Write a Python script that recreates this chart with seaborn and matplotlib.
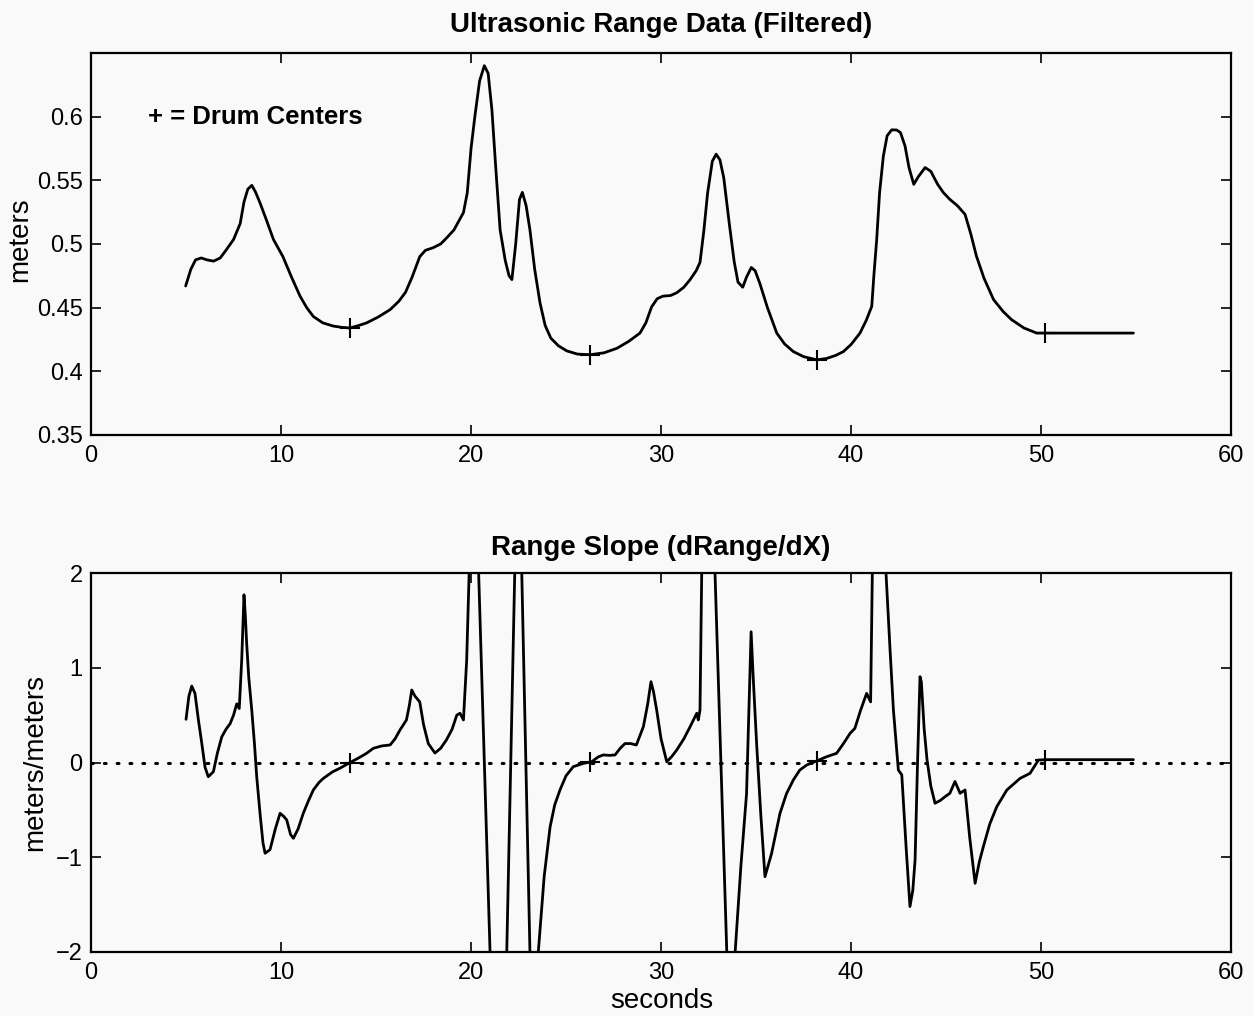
import numpy as np
import pandas as pd
import matplotlib
matplotlib.use("Agg")
import matplotlib.pyplot as plt
import seaborn as sns

# ---------------- data ----------------
range_x = [4.98, 5.25, 5.5, 5.8, 6.1, 6.45, 6.8, 7.1, 7.5, 7.85, 8.05, 8.25, 8.46, 8.65, 8.9,
           9.25, 9.6, 10.1, 10.55, 11.0, 11.35, 11.7, 12.2, 12.75, 13.2, 13.63, 14.1, 14.5, 15.1,
           15.74, 16.2, 16.55, 16.9, 17.3, 17.6, 18.0, 18.4, 18.7, 19.1, 19.6, 19.8, 20.0, 20.2,
           20.45, 20.7, 20.9, 21.1, 21.3, 21.53, 21.8, 22.0, 22.15, 22.35, 22.55, 22.7, 22.9, 23.1,
           23.35, 23.63, 23.9, 24.2, 24.6, 25.04, 25.6, 26.26, 27.0, 27.67, 28.3, 28.89, 29.2, 29.5,
           29.8, 30.1, 30.5, 30.82, 31.2, 31.53, 31.85, 32.05, 32.25, 32.45, 32.7, 32.9, 33.1, 33.3,
           33.6, 33.85, 34.05, 34.3, 34.5, 34.75, 34.95, 35.2, 35.6, 36.09, 36.5, 36.96, 37.5, 38.19,
           38.7, 39.2, 39.6, 40.0, 40.47, 40.8, 41.09, 41.2, 41.35, 41.5, 41.7, 41.9, 42.14, 42.4,
           42.6, 42.84, 43.05, 43.3, 43.55, 43.9, 44.2, 44.55, 44.86, 45.2, 45.6, 46.0, 46.3, 46.6,
           47.0, 47.5, 48.0, 48.45, 49.1, 49.77, 50.2, 52.0, 54.86]
range_m = [0.467, 0.480, 0.4875, 0.489, 0.4875, 0.4865, 0.489, 0.495, 0.5035, 0.516, 0.533, 0.543,
           0.546, 0.541, 0.532, 0.518, 0.5035, 0.490, 0.474, 0.459, 0.450, 0.443, 0.438, 0.4355,
           0.4345, 0.434, 0.436, 0.438, 0.4425, 0.4484, 0.455, 0.462, 0.474, 0.490, 0.495, 0.497,
           0.500, 0.5045, 0.511, 0.5246, 0.540, 0.575, 0.600, 0.628, 0.640, 0.634, 0.605, 0.560,
           0.511, 0.487, 0.475, 0.472, 0.500, 0.535, 0.5405, 0.530, 0.511, 0.480, 0.4537, 0.436,
           0.426, 0.420, 0.416, 0.4135, 0.413, 0.4145, 0.418, 0.4235, 0.430, 0.438, 0.4505, 0.457,
           0.459, 0.4595, 0.4616, 0.466, 0.472, 0.479, 0.4855, 0.510, 0.540, 0.565, 0.5705, 0.566,
           0.552, 0.515, 0.486, 0.470, 0.466, 0.474, 0.4815, 0.479, 0.469, 0.450, 0.430, 0.4215,
           0.4155, 0.4115, 0.409, 0.410, 0.4125, 0.4155, 0.421, 0.430, 0.440, 0.451, 0.475, 0.5035,
           0.540, 0.569, 0.585, 0.5896, 0.5895, 0.5875, 0.577, 0.560, 0.5468, 0.553, 0.560, 0.557,
           0.547, 0.5403, 0.535, 0.530, 0.5232, 0.508, 0.4904, 0.473, 0.4563, 0.447, 0.4405, 0.434,
           0.430, 0.430, 0.430, 0.430]

slope_x = [5.0, 5.15, 5.3, 5.47, 5.65, 5.83, 6.0, 6.17, 6.44, 6.65, 6.88, 7.1, 7.32, 7.5, 7.67,
           7.8, 7.93, 8.05, 8.12, 8.19, 8.3, 8.46, 8.6, 8.72, 8.9, 9.05, 9.16, 9.42, 9.7, 9.95,
           10.15, 10.3, 10.5, 10.65, 10.9, 11.17, 11.45, 11.7, 12.0, 12.23, 12.7, 13.1, 13.63, 14.1,
           14.5, 14.86, 15.3, 15.74, 16.0, 16.26, 16.6, 16.75, 16.88, 17.05, 17.3, 17.5, 17.75,
           18.1, 18.4, 18.7, 19.0, 19.25, 19.42, 19.6, 19.77, 19.9, 20.1, 20.4, 21.0, 21.4, 21.88,
           22.3, 22.5, 22.67, 23.1, 23.3, 23.54, 23.85, 24.16, 24.4, 24.68, 25.0, 25.38, 25.9,
           26.35, 26.7, 26.96, 27.3, 27.58, 27.85, 28.1, 28.4, 28.7, 29.07, 29.3, 29.47, 29.6,
           29.77, 30.0, 30.3, 30.55, 30.82, 31.2, 31.53, 31.88, 31.96, 32.05, 32.14, 32.5, 32.84,
           33.46, 33.7, 33.9, 34.2, 34.5, 34.74, 34.85, 35.03, 35.25, 35.47, 35.82, 36.26, 36.6,
           36.96, 37.3, 37.67, 38.19, 38.7, 39.24, 39.6, 39.95, 40.2, 40.5, 40.82, 41.03, 41.12,
           41.45, 41.84, 42.05, 42.23, 42.49, 42.67, 42.9, 43.1, 43.25, 43.37, 43.5, 43.63, 43.7,
           43.85, 44.0, 44.2, 44.42, 44.7, 44.95, 45.2, 45.47, 45.74, 46.0, 46.25, 46.53, 46.75,
           46.96, 47.3, 47.67, 48.2, 48.9, 49.42, 49.86, 50.3, 52.0, 54.86]
slope_v = [0.456, 0.70, 0.807, 0.73, 0.45, 0.20, -0.05, -0.15, -0.097, 0.10, 0.27, 0.35, 0.41,
           0.50, 0.62, 0.57, 1.08, 1.77, 1.55, 1.26, 0.90, 0.55, 0.20, -0.15, -0.55, -0.85, -0.958,
           -0.92, -0.70, -0.536, -0.57, -0.607, -0.76, -0.80, -0.70, -0.536, -0.40, -0.29, -0.21,
           -0.167, -0.10, -0.06, 0.0, 0.05, 0.097, 0.15, 0.175, 0.185, 0.25, 0.343, 0.449, 0.60,
           0.765, 0.70, 0.64, 0.40, 0.20, 0.10, 0.15, 0.237, 0.35, 0.50, 0.52, 0.449, 1.08, 2.0,
           4.5, 2.0, -2.0, -4.0, -2.0, 2.0, 4.0, 2.0, -2.0, -3.5, -2.0, -1.2, -0.68, -0.45, -0.29,
           -0.14, -0.044, -0.01, 0.008, 0.06, 0.08, 0.075, 0.08, 0.15, 0.20, 0.20, 0.185, 0.378,
           0.62, 0.853, 0.75, 0.554, 0.25, 0.008, 0.06, 0.13, 0.25, 0.378, 0.52, 0.449, 0.554, 2.0,
           4.5, 2.0, -2.0, -4.0, -2.0, -1.1, -0.33, 1.38, 0.90, 0.20, -0.55, -1.205, -0.958, -0.536,
           -0.33, -0.185, -0.08, -0.026, 0.016, 0.06, 0.097, 0.20, 0.308, 0.36, 0.55, 0.73, 0.64,
           2.0, 4.5, 2.0, 1.2, 0.554, -0.08, -0.13, -0.9, -1.52, -1.35, -1.03, 0.0, 0.906, 0.85,
           0.35, 0.026, -0.25, -0.43, -0.40, -0.36, -0.325, -0.20, -0.325, -0.29, -0.80, -1.275,
           -1.05, -0.89, -0.65, -0.466, -0.29, -0.167, -0.114, 0.026, 0.03, 0.03, 0.03]

drum_x = [13.63, 26.26, 38.19, 50.2]
drum_range = [0.434, 0.413, 0.409, 0.430]
drum_slope = [0.0, 0.008, 0.016, 0.03]

x_ticks = [0, 10, 20, 30, 40, 50, 60]
range_ticks = [0.35, 0.4, 0.45, 0.5, 0.55, 0.6]
range_tick_labels = ["0.35", "0.4", "0.45", "0.5", "0.55", "0.6"]
slope_ticks = [-2, -1, 0, 1, 2]
slope_tick_labels = ["\u22122", "\u22121", "0", "1", "2"]

# ---------------- style ----------------
sns.set_style("ticks")
plt.rcParams["font.family"] = ["Liberation Sans", "DejaVu Sans"]
plt.rcParams.update({
    "text.color": "black", "axes.labelcolor": "black", "axes.titlecolor": "black",
    "xtick.direction": "in", "ytick.direction": "in",
    "xtick.top": True, "ytick.right": True,
    "xtick.major.size": 7, "ytick.major.size": 7,
    "xtick.major.width": 1.2, "ytick.major.width": 1.2,
    "axes.linewidth": 1.6,
    "axes.edgecolor": "black",
    "xtick.color": "black", "ytick.color": "black",
    "xtick.labelcolor": "black", "ytick.labelcolor": "black",
})

bg = "#f9f9f9"
fig = plt.figure(figsize=(12.54, 10.16), dpi=100, facecolor=bg)

ax1 = fig.add_axes([0.0726, 0.5719, 0.9091, 0.3760])
ax2 = fig.add_axes([0.0726, 0.0630, 0.9091, 0.3730])

df_range = pd.DataFrame({"x": range_x, "y": range_m})
df_slope = pd.DataFrame({"x": slope_x, "y": slope_v})

for ax in (ax1, ax2):
    ax.set_facecolor(bg)

# top panel
sns.lineplot(data=df_range, x="x", y="y", ax=ax1, color="black", lw=2.0,
             sort=False, estimator=None)
ax1.plot(drum_x, drum_range, ls="none", marker="+", color="black", ms=14, mew=1.5)
ax1.set_xlim(0, 60)
ax1.set_ylim(0.35, 0.65)
ax1.set_xticks(x_ticks)
ax1.set_yticks(range_ticks)
ax1.set_yticklabels(range_tick_labels)
ax1.set_xlabel("")
ax1.set_ylabel("meters", fontsize=20)
ax1.yaxis.set_label_coords(-0.051, 0.51)
ax1.set_title("Ultrasonic Range Data (Filtered)", fontsize=20, fontweight="bold", pad=15)
ax1.text(3.0, 0.6, "+ = Drum Centers", fontsize=18.5, fontweight="bold", va="center", ha="left")

# bottom panel
ax2.axhline(0, color="black", lw=2.2, ls=(0, (0.6, 3.6)), dash_capstyle="round")
sns.lineplot(data=df_slope, x="x", y="y", ax=ax2, color="black", lw=2.0,
             sort=False, estimator=None)
ax2.plot(drum_x, drum_slope, ls="none", marker="+", color="black", ms=14, mew=1.5)
ax2.set_xlim(0, 60)
ax2.set_ylim(-2, 2)
ax2.set_xticks(x_ticks)
ax2.set_yticks(slope_ticks)
ax2.set_yticklabels(slope_tick_labels)
ax2.set_xlabel("seconds", fontsize=20)
ax2.xaxis.set_label_coords(0.501, -0.095)
ax2.set_ylabel("meters/meters", fontsize=20)
ax2.yaxis.set_label_coords(-0.038, 0.5)
ax2.set_title("Range Slope (dRange/dX)", fontsize=20, fontweight="bold", pad=13)

for ax in (ax1, ax2):
    ax.tick_params(axis="both", which="major", labelsize=17)
    ax.tick_params(axis="x", pad=7)
    ax.tick_params(axis="y", pad=6)
    for s in ax.spines.values():
        s.set_visible(True)
        s.set_color("black")

fig.savefig("out.png", dpi=100, facecolor=bg)
